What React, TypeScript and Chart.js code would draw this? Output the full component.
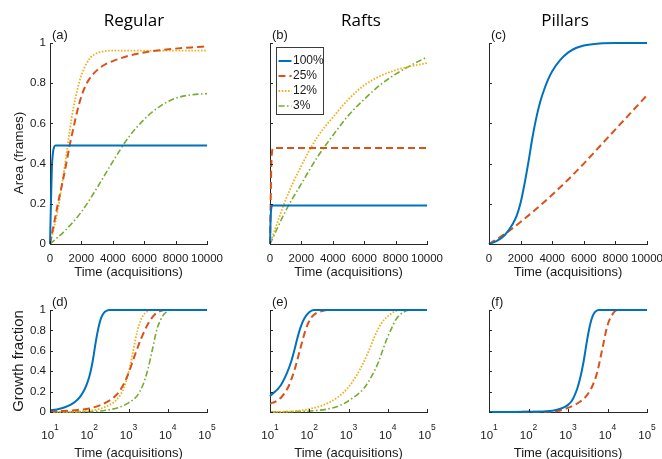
import React, { useEffect, useRef } from "react";
import { Chart, registerables } from "chart.js";

Chart.register(...registerables);

const W = 662;
const H = 459;
const BLUE = "#0072BD";
const ORANGE = "#D95319";
const YELLOW = "#EDB120";
const GREEN = "#77AC30";
const AXIS = "#262626";
const TXT = "#1a1a1a";
const SANS = "'Liberation Sans', Arial, Helvetica, sans-serif";
const TITLE_FONT = "'Open Sans', 'Noto Sans', sans-serif";

// ---------- labels ----------
const seriesLabels = ["100%", "25%", "12%", "3%"];
const columnTitles = ["Regular", "Rafts", "Pillars"];
const panelLetters = ["(a)", "(b)", "(c)", "(d)", "(e)", "(f)"];
const yTitles = ["Area (frames)", "Growth fraction"];
const xTitle = "Time (acquisitions)";
const yTickValues = [0, 0.2, 0.4, 0.6, 0.8, 1];
const linTickValues = [0, 2000, 4000, 6000, 8000, 10000];
const logTickValues = [10, 100, 1000, 10000, 100000];
const logTickExponents = ["1", "2", "3", "4", "5"];

// ---------- (a) Regular, area ----------
const aT100 = [0, 60, 120, 180, 250, 350, 10000];
const aY100 = [0, 0.2, 0.38, 0.45, 0.48, 0.49, 0.49];
const aT25 = [0, 250, 500, 750, 1000, 1250, 1500, 1750, 2000, 2250, 2500, 3000, 3500, 4000, 5000, 6000, 7000, 8000, 9000, 10000];
const aY25 = [0, 0.1, 0.2, 0.29, 0.385, 0.49, 0.58, 0.665, 0.735, 0.785, 0.82, 0.865, 0.893, 0.91, 0.936, 0.953, 0.964, 0.972, 0.978, 0.983];
const aT12 = [0, 250, 500, 750, 1000, 1250, 1500, 1750, 2000, 2500, 3000, 3500, 4000, 10000];
const aY12 = [0, 0.08, 0.17, 0.29, 0.42, 0.56, 0.68, 0.77, 0.84, 0.92, 0.95, 0.96, 0.962, 0.962];
const aT3 = [0, 1000, 2000, 3000, 4000, 5000, 6000, 7000, 8000, 9000, 10000];
const aY3 = [0, 0.07, 0.16, 0.28, 0.41, 0.53, 0.62, 0.685, 0.725, 0.742, 0.748];

// ---------- (b) Rafts, area ----------
const bT100 = [0, 30, 60, 100, 150, 10000];
const bY100 = [0, 0.1, 0.16, 0.185, 0.192, 0.192];
const bT25 = [0, 40, 80, 120, 180, 250, 10000];
const bY25 = [0, 0.2, 0.38, 0.45, 0.475, 0.478, 0.478];
const bT12 = [0, 1000, 2000, 3000, 4000, 5000, 6000, 7000, 8000, 9000, 10000];
const bY12 = [0, 0.22, 0.39, 0.53, 0.63, 0.72, 0.79, 0.835, 0.865, 0.885, 0.9];
const bT3 = [0, 1000, 2000, 3000, 4000, 5000, 6000, 7000, 8000, 9000, 10000];
const bY3 = [0, 0.165, 0.3, 0.43, 0.54, 0.64, 0.72, 0.79, 0.845, 0.89, 0.93];

// ---------- (c) Pillars, area ----------
const cT100 = [0, 500, 1000, 1500, 1750, 2000, 2250, 2500, 2750, 3000, 3250, 3500, 3750, 4000, 4500, 5000, 5500, 6000, 7000, 8000, 10000];
const cY100 = [0, 0.015, 0.045, 0.1, 0.14, 0.205, 0.3, 0.41, 0.53, 0.63, 0.71, 0.77, 0.82, 0.86, 0.915, 0.952, 0.975, 0.988, 0.998, 1, 1];
const cT25 = [0, 1000, 2000, 3000, 4000, 5000, 6000, 7000, 8000, 9000, 10000];
const cY25 = [0, 0.05, 0.11, 0.175, 0.245, 0.32, 0.4, 0.485, 0.57, 0.655, 0.74];

// ---------- (d) Regular, growth fraction ----------
const dT100 = [10, 15, 20, 30, 40, 50, 60, 70, 80, 90, 100, 110, 120, 130, 140, 150, 165, 180, 200, 225, 250, 280, 320, 100000];
const dY100 = [0.016, 0.025, 0.036, 0.062, 0.09, 0.12, 0.155, 0.195, 0.24, 0.29, 0.345, 0.41, 0.48, 0.56, 0.64, 0.71, 0.795, 0.86, 0.92, 0.96, 0.982, 0.994, 1, 1];
const dT25 = [10, 50, 100, 200, 350, 500, 700, 1000, 1400, 2000, 3000, 4500, 6500, 9000, 100000];
const dY25 = [0.005, 0.02, 0.035, 0.07, 0.12, 0.17, 0.25, 0.38, 0.54, 0.7, 0.85, 0.95, 0.99, 1, 1];
const dT12 = [10, 50, 100, 200, 350, 500, 625, 750, 900, 1050, 1200, 1350, 1500, 1700, 2000, 2400, 3000, 3800, 100000];
const dY12 = [0, 0.004, 0.012, 0.035, 0.075, 0.12, 0.17, 0.23, 0.32, 0.42, 0.52, 0.62, 0.71, 0.8, 0.89, 0.95, 0.985, 1, 1];
const dT3 = [10, 131, 300, 625, 1000, 1660, 2300, 2980, 4000, 5300, 6500, 7900, 9500, 11400, 100000];
const dY3 = [0, 0.005, 0.02, 0.05, 0.09, 0.16, 0.26, 0.39, 0.6, 0.81, 0.9, 0.955, 0.985, 1, 1];

// ---------- (e) Rafts, growth fraction ----------
const eT100 = [10, 18.7, 27.6, 35, 42, 49.5, 60, 73, 98, 131, 100000];
const eY100 = [0.157, 0.26, 0.39, 0.5, 0.61, 0.72, 0.83, 0.91, 0.975, 1, 1];
const eT25 = [10, 15, 20, 25, 30, 35, 40, 45, 50, 55, 62, 70, 80, 95, 115, 150, 214, 300, 100000];
const eY25 = [0.08, 0.11, 0.15, 0.2, 0.255, 0.32, 0.385, 0.45, 0.515, 0.575, 0.65, 0.725, 0.8, 0.875, 0.93, 0.97, 0.99, 1, 1];
const eT12 = [10, 50, 89, 200, 348, 600, 930, 1500, 2450, 3300, 4400, 5800, 7900, 11000, 14000, 20900, 100000];
const eY12 = [0, 0.01, 0.026, 0.06, 0.1, 0.16, 0.23, 0.34, 0.49, 0.6, 0.72, 0.82, 0.9, 0.95, 0.98, 1, 1];
const eT3 = [10, 131, 300, 625, 1200, 2450, 4000, 5800, 7500, 9600, 12500, 15800, 20000, 25600, 37600, 100000];
const eY3 = [0, 0.013, 0.03, 0.066, 0.13, 0.23, 0.36, 0.49, 0.61, 0.72, 0.82, 0.9, 0.95, 0.98, 1, 1];

// ---------- (f) Pillars, growth fraction ----------
const fT100 = [10, 100, 300, 500, 785, 1000, 1250, 1500, 1750, 2000, 2250, 2500, 2750, 3000, 3300, 3700, 4200, 4800, 5500, 6000, 100000];
const fY100 = [0, 0.002, 0.008, 0.02, 0.045, 0.07, 0.11, 0.17, 0.24, 0.32, 0.41, 0.5, 0.6, 0.69, 0.78, 0.87, 0.94, 0.98, 0.997, 1, 1];
const fT25 = [10, 200, 530, 1000, 1400, 2000, 3100, 4200, 5500, 7400, 10000, 13000, 17800, 100000];
const fY25 = [0, 0.003, 0.01, 0.04, 0.066, 0.1, 0.17, 0.26, 0.39, 0.62, 0.85, 0.95, 1, 1];

// ---------- styles per series ----------
type Style = { color: string; dash: number[]; width: number; label: string };
const STYLES: Style[] = [
  { color: BLUE, dash: [], width: 2, label: seriesLabels[0] },
  { color: ORANGE, dash: [7, 4], width: 2, label: seriesLabels[1] },
  { color: YELLOW, dash: [1.6, 1.6], width: 1.8, label: seriesLabels[2] },
  { color: GREEN, dash: [6, 2.5, 1.5, 2.5], width: 1.6, label: seriesLabels[3] },
];

type Series = { t: number[]; y: number[]; s: Style };
type Panel = {
  left: number;
  right: number;
  top: number;
  bottom: number;
  log: boolean;
  yLabels: boolean;
  letter: string;
  colTitle?: string;
  colCenter?: number;
  yTitle?: string;
  yTitleSize?: number;
  legend?: boolean;
  series: Series[];
};

const TOP = { top: 43, bottom: 244 };
const BOT = { top: 310, bottom: 412 };
const COLS = [
  { left: 50, right: 207 },
  { left: 270, right: 427 },
  { left: 489, right: 647 },
];

const panels: Panel[] = [
  {
    ...COLS[0], ...TOP, log: false, yLabels: true, letter: panelLetters[0],
    colTitle: columnTitles[0], colCenter: 134, yTitle: yTitles[0], yTitleSize: 13.5,
    series: [
      { t: aT100, y: aY100, s: STYLES[0] },
      { t: aT25, y: aY25, s: STYLES[1] },
      { t: aT12, y: aY12, s: STYLES[2] },
      { t: aT3, y: aY3, s: STYLES[3] },
    ],
  },
  {
    ...COLS[1], ...TOP, log: false, yLabels: false, letter: panelLetters[1],
    colTitle: columnTitles[1], colCenter: 361, legend: true,
    series: [
      { t: bT100, y: bY100, s: STYLES[0] },
      { t: bT25, y: bY25, s: STYLES[1] },
      { t: bT12, y: bY12, s: STYLES[2] },
      { t: bT3, y: bY3, s: STYLES[3] },
    ],
  },
  {
    ...COLS[2], ...TOP, log: false, yLabels: false, letter: panelLetters[2],
    colTitle: columnTitles[2], colCenter: 565,
    series: [
      { t: cT100, y: cY100, s: STYLES[0] },
      { t: cT25, y: cY25, s: STYLES[1] },
    ],
  },
  {
    ...COLS[0], ...BOT, log: true, yLabels: true, letter: panelLetters[3],
    yTitle: yTitles[1], yTitleSize: 15,
    series: [
      { t: dT100, y: dY100, s: STYLES[0] },
      { t: dT25, y: dY25, s: STYLES[1] },
      { t: dT12, y: dY12, s: STYLES[2] },
      { t: dT3, y: dY3, s: STYLES[3] },
    ],
  },
  {
    ...COLS[1], ...BOT, log: true, yLabels: false, letter: panelLetters[4],
    series: [
      { t: eT100, y: eY100, s: STYLES[0] },
      { t: eT25, y: eY25, s: STYLES[1] },
      { t: eT12, y: eY12, s: STYLES[2] },
      { t: eT3, y: eY3, s: STYLES[3] },
    ],
  },
  {
    ...COLS[2], ...BOT, log: true, yLabels: false, letter: panelLetters[5],
    series: [
      { t: fT100, y: fY100, s: STYLES[0] },
      { t: fT25, y: fY25, s: STYLES[1] },
    ],
  },
];

function zeroPad(s: any) {
  s.paddingLeft = 0;
  s.paddingRight = 0;
  s.paddingTop = 0;
  s.paddingBottom = 0;
}

function decorPlugin(p: Panel) {
  return {
    id: "decor",
    afterDraw(chart: any) {
      const ctx: CanvasRenderingContext2D = chart.ctx;
      const { left, right, top, bottom } = chart.chartArea;
      const xs = chart.scales.x;
      const ys = chart.scales.y;
      ctx.save();
      // inward tick marks
      ctx.strokeStyle = AXIS;
      ctx.lineWidth = 1;
      ctx.setLineDash([]);
      ctx.beginPath();
      for (const v of yTickValues) {
        const py = Math.round(ys.getPixelForValue(v)) + 0.5;
        ctx.moveTo(left, py);
        ctx.lineTo(left + 3, py);
      }
      const xv = p.log ? logTickValues : linTickValues;
      for (const v of xv) {
        const px = Math.round(xs.getPixelForValue(v)) + 0.5;
        ctx.moveTo(px, bottom);
        ctx.lineTo(px, bottom - 3);
      }
      ctx.stroke();

      ctx.fillStyle = TXT;
      // log tick labels with superscripts
      if (p.log) {
        logTickValues.forEach((v, i) => {
          const px = xs.getPixelForValue(v);
          ctx.font = `11.5px ${SANS}`;
          const w1 = ctx.measureText("10").width;
          ctx.font = `8.5px ${SANS}`;
          const w2 = ctx.measureText(logTickExponents[i]).width;
          const x0 = px - (w1 + w2) / 2;
          ctx.textAlign = "left";
          ctx.textBaseline = "middle";
          ctx.font = `11.5px ${SANS}`;
          ctx.fillText("10", x0, bottom + 24);
          ctx.font = `8.5px ${SANS}`;
          ctx.fillText(logTickExponents[i], x0 + w1, bottom + 15.5);
        });
      }
      // x title
      ctx.font = `13px ${SANS}`;
      ctx.textAlign = "center";
      ctx.textBaseline = "middle";
      ctx.fillText(xTitle, (left + right) / 2, p.log ? bottom + 41 : bottom + 28);
      // panel letter
      ctx.textAlign = "left";
      ctx.font = `13px ${SANS}`;
      ctx.fillText(p.letter, left + 2, top - 8);
      // column title
      if (p.colTitle) {
        ctx.font = `17px ${TITLE_FONT}`;
        ctx.textAlign = "center";
        ctx.textBaseline = "alphabetic";
        ctx.fillStyle = "#000";
        ctx.fillText(p.colTitle, p.colCenter as number, 26);
      }
      // y title
      if (p.yTitle) {
        ctx.save();
        ctx.translate(19, p.log ? 361 : 153);
        ctx.rotate(-Math.PI / 2);
        ctx.font = `${p.yTitleSize}px ${SANS}`;
        ctx.textAlign = "center";
        ctx.textBaseline = "middle";
        ctx.fillStyle = TXT;
        ctx.fillText(p.yTitle, 0, 0);
        ctx.restore();
      }
      // legend
      if (p.legend) {
        const bx = left + 6.5;
        const by = top + 4.5;
        const bw = 47;
        const bh = 67;
        ctx.fillStyle = "#fff";
        ctx.fillRect(bx, by, bw, bh);
        ctx.strokeStyle = "#3a3a3a";
        ctx.lineWidth = 1;
        ctx.setLineDash([]);
        ctx.strokeRect(bx, by, bw, bh);
        STYLES.forEach((st, i) => {
          const ly = by + 13.5 + i * 15;
          ctx.strokeStyle = st.color;
          ctx.lineWidth = st.width;
          ctx.setLineDash(st.dash);
          ctx.beginPath();
          ctx.moveTo(bx + 2, ly);
          ctx.lineTo(bx + 15, ly);
          ctx.stroke();
          ctx.setLineDash([]);
          ctx.fillStyle = TXT;
          ctx.font = `12px ${SANS}`;
          ctx.textAlign = "left";
          ctx.textBaseline = "middle";
          ctx.fillText(st.label, bx + 16.5, ly);
        });
      }
      ctx.restore();
    },
  };
}

function buildConfig(p: Panel): any {
  return {
    type: "line",
    data: {
      datasets: p.series.map((sr) => ({
        label: sr.s.label,
        data: sr.t.map((x, i) => ({ x, y: sr.y[i] })),
        borderColor: sr.s.color,
        backgroundColor: sr.s.color,
        borderWidth: sr.s.width,
        borderDash: sr.s.dash,
        pointRadius: 0,
        fill: false,
        tension: 0.4,
        cubicInterpolationMode: "monotone",
        clip: 4,
      })),
    },
    options: {
      animation: false,
      responsive: false,
      maintainAspectRatio: false,
      devicePixelRatio: 1,
      events: [],
      layout: { padding: { left: 0, top: p.top, right: W - p.right, bottom: 0 } },
      plugins: {
        legend: { display: false },
        tooltip: { enabled: false },
        title: { display: false },
      },
      scales: {
        x: {
          type: p.log ? "logarithmic" : "linear",
          min: p.log ? logTickValues[0] : linTickValues[0],
          max: p.log ? logTickValues[logTickValues.length - 1] : linTickValues[linTickValues.length - 1],
          grid: { display: false, drawTicks: false },
          border: { display: true, color: AXIS, width: 1 },
          ticks: p.log
            ? { display: false }
            : {
                display: true,
                stepSize: 2000,
                autoSkip: false,
                maxRotation: 0,
                padding: 8,
                color: TXT,
                font: { family: SANS, size: 11.5 },
                callback: (v: any) => String(v),
              },
          afterFit: (s: any) => {
            s.height = H - p.bottom;
            zeroPad(s);
          },
        },
        y: {
          type: "linear",
          min: 0,
          max: 1,
          grid: { display: false, drawTicks: false },
          border: { display: true, color: AXIS, width: 1 },
          ticks: {
            display: p.yLabels,
            stepSize: 0.2,
            padding: 4,
            color: TXT,
            font: { family: SANS, size: 11.5 },
            callback: (v: any) => String(Math.round(Number(v) * 10) / 10),
          },
          afterFit: (s: any) => {
            s.width = p.left;
            zeroPad(s);
          },
        },
      },
    },
    plugins: [decorPlugin(p)],
  };
}

function PanelChart({ p }: { p: Panel }) {
  const ref = useRef<HTMLCanvasElement>(null);
  useEffect(() => {
    const canvas = ref.current;
    if (!canvas) return;
    const chart = new Chart(canvas, buildConfig(p));
    return () => chart.destroy();
  }, [p]);
  return (
    <canvas
      ref={ref}
      width={W}
      height={H}
      style={{ position: "absolute", left: 0, top: 0, width: W, height: H }}
    />
  );
}

export default function App() {
  return (
    <div
      style={{
        position: "absolute",
        left: 0,
        top: 0,
        width: W,
        height: H,
        background: "#fff",
        overflow: "hidden",
      }}
    >
      {panels.map((p, i) => (
        <PanelChart key={i} p={p} />
      ))}
    </div>
  );
}
